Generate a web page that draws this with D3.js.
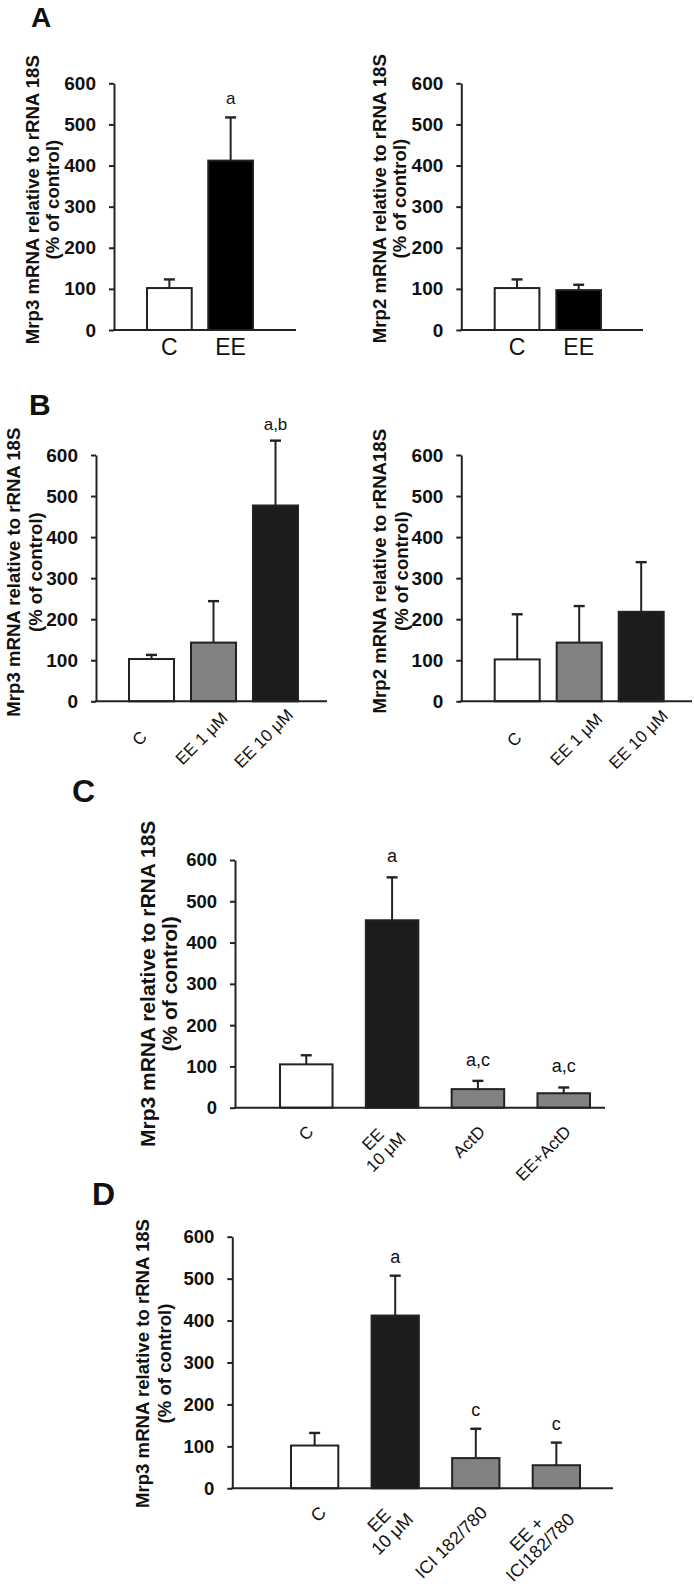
<!DOCTYPE html>
<html><head><meta charset="utf-8">
<script src="https://cdnjs.cloudflare.com/ajax/libs/d3/7.8.5/d3.min.js"></script>
<style>body{margin:0;background:#fff} svg{display:block}</style>
</head><body>
<svg id="chart" width="694" height="1586"></svg>
<script>
// ---------------- DATA ----------------
const yTicks = [0, 100, 200, 300, 400, 500, 600];

const catsA = ["C", "EE"];
const kindsA = ["control", "ee"];
const mrp3A = [102, 412];
const mrp3AErr = [21, 105];
const notesMrp3A = ["", "a"];
const mrp2A = [102, 97];
const mrp2AErr = [21, 13];
const notesMrp2A = ["", ""];

const catsB = ["C", "EE 1 μM", "EE 10 μM"];
const kindsB = ["control", "low", "ee"];
const mrp3B = [103, 143, 477];
const mrp3BErr = [10, 101, 158];
const notesMrp3B = ["", "", "a,b"];
const mrp2B = [102, 143, 218];
const mrp2BErr = [110, 89, 121];
const notesMrp2B = ["", "", ""];

const catsC = ["C", "EE\n10 μM", "ActD", "EE+ActD"];
const kindsC = ["control", "ee", "low", "low"];
const mrp3C = [105, 454, 45, 35];
const mrp3CErr = [22, 104, 20, 14];
const notesC = ["", "a", "a,c", "a,c"];

const catsD = ["C", "EE\n10 μM", "ICI 182/780", "EE +\nICI182/780"];
const kindsD = ["control", "ee", "low", "low"];
const mrp3D = [102, 412, 72, 55];
const mrp3DErr = [30, 95, 70, 54];
const notesD = ["", "a", "c", "c"];

const yLabelMrp3 = ["Mrp3 mRNA relative to rRNA 18S", "(% of control)"];
const yLabelMrp2 = ["Mrp2 mRNA relative to rRNA 18S", "(% of control)"];
const yLabelMrp2b = ["Mrp2 mRNA relative to rRNA18S", "(% of control)"];

// ---------------- STYLE / LAYOUT ----------------
const FONT = "'Liberation Sans', Arial, Helvetica, sans-serif";
const INK = "#222";
const fillA = {control: "#ffffff", ee: "#000000", low: "#808080"};
const fillB = {control: "#ffffff", ee: "#1c1c1c", low: "#828282"};

const panels = [
  {cats: catsA, kinds: kindsA, vals: mrp3A, errs: mrp3AErr, notes: notesMrp3A, fills: fillA, ylab: yLabelMrp3,
   axisX: 114, y0: 330, yTop: 83.3, bx0: 147, bx1: 253, pad: 0.27, axisEnd: 296,
   tickFs: 19, yl: {fs: 18.6, x1: -82, x2: -62, dc: -7},
   lab: {mode: "flat", fs: 23, dy: 25}, note: {fs: 17, gap: 13}},
  {cats: catsA, kinds: kindsA, vals: mrp2A, errs: mrp2AErr, notes: notesMrp2A, fills: fillA, ylab: yLabelMrp2,
   axisX: 461.3, y0: 330, yTop: 83.3, bx0: 494.7, bx1: 601, pad: 0.275, axisEnd: 643,
   tickFs: 19, yl: {fs: 18.6, x1: -82, x2: -62, dc: -8},
   lab: {mode: "flat", fs: 23, dy: 25}, note: {fs: 17, gap: 13}},
  {cats: catsB, kinds: kindsB, vals: mrp3B, errs: mrp3BErr, notes: notesMrp3B, fills: fillB, ylab: yLabelMrp3,
   axisX: 96, y0: 701.3, yTop: 455, bx0: 129, bx1: 298, pad: 0.274, axisEnd: 327,
   tickFs: 19, yl: {fs: 18.6, x1: -83, x2: -61, dc: -6},
   lab: {mode: "middle", fs: 17, lh: 18, dx: -12, dy: 37}, note: {fs: 17, gap: 11}},
  {cats: catsB, kinds: kindsB, vals: mrp2B, errs: mrp2BErr, notes: notesMrp2B, fills: fillB, ylab: yLabelMrp2b,
   axisX: 461.3, y0: 701.3, yTop: 455, bx0: 494.7, bx1: 663.7, pad: 0.274, axisEnd: 692,
   tickFs: 19, yl: {fs: 18.6, x1: -82, x2: -60, dc: -7},
   lab: {mode: "middle", fs: 17, lh: 18, dx: -3, dy: 38}, note: {fs: 17, gap: 11}},
  {cats: catsC, kinds: kindsC, vals: mrp3C, errs: mrp3CErr, notes: notesC, fills: fillB, ylab: yLabelMrp3,
   axisX: 235, y0: 1107.7, yTop: 860, bx0: 280, bx1: 590, pad: 0.388, axisEnd: 605,
   tickFs: 18.5, yl: {fs: 21, x1: -87, x2: -65, dc: 0},
   lab: {mode: "end", fs: 17, lh: 18, dx: 4, dy: 21}, note: {fs: 18, gap: 15}},
  {cats: catsD, kinds: kindsD, vals: mrp3D, errs: mrp3DErr, notes: notesD, fills: fillB, ylab: yLabelMrp3,
   axisX: 232.3, y0: 1488.3, yTop: 1236.7, bx0: 291, bx1: 580, pad: 0.413, axisEnd: 613,
   tickFs: 18.5, yl: {fs: 18.6, x1: -90, x2: -68, dc: 1},
   lab: {mode: "end", fs: 18, lh: 19, dx: 8, dy: 21}, note: {fs: 18, gap: 13}}
];

const panelLetters = [
  {t: "A", x: 31, y: 27, fs: 28},
  {t: "B", x: 29, y: 415, fs: 30},
  {t: "C", x: 72, y: 802, fs: 32},
  {t: "D", x: 92, y: 1205, fs: 32}
];

// ---------------- DRAW ----------------
const svg = d3.select("#chart");
svg.append("rect").attr("width", 694).attr("height", 1586).attr("fill", "#fff");

panelLetters.forEach(l => {
  svg.append("text").attr("x", l.x).attr("y", l.y).text(l.t)
    .attr("font-family", FONT).attr("font-weight", "bold").attr("font-size", l.fs).attr("fill", "#111");
});

panels.forEach(p => {
  const g = svg.append("g");
  const y = d3.scaleLinear().domain([0, 600]).range([p.y0, p.yTop]);
  const x = d3.scaleBand().domain(p.cats).range([p.bx0, p.bx1]).paddingInner(p.pad).paddingOuter(0);

  // bars
  g.selectAll("rect.bar").data(p.cats).join("rect").attr("class", "bar")
    .attr("x", d => x(d)).attr("width", x.bandwidth())
    .attr("y", (d, i) => y(p.vals[i])).attr("height", (d, i) => y(0) - y(p.vals[i]))
    .attr("fill", (d, i) => p.fills[p.kinds[i]])
    .attr("stroke", INK).attr("stroke-width", 2);

  // error bars
  const cap = 5.5;
  p.cats.forEach((c, i) => {
    const cx = x(c) + x.bandwidth() / 2;
    const yv = y(p.vals[i]), ye = y(p.vals[i] + p.errs[i]);
    g.append("line").attr("x1", cx).attr("x2", cx).attr("y1", yv).attr("y2", ye)
      .attr("stroke", INK).attr("stroke-width", 2);
    g.append("line").attr("x1", cx - cap).attr("x2", cx + cap).attr("y1", ye).attr("y2", ye)
      .attr("stroke", INK).attr("stroke-width", 2.4);
    if (p.notes[i]) {
      g.append("text").attr("x", cx).attr("y", ye - p.note.gap).attr("text-anchor", "middle")
        .attr("font-family", FONT).attr("font-size", p.note.fs).attr("fill", "#111").text(p.notes[i]);
    }
  });

  // y axis
  const yAxis = d3.axisLeft(y).tickValues(yTicks).tickSize(5).tickPadding(13).tickSizeOuter(0);
  const ya = g.append("g").attr("transform", `translate(${p.axisX},0)`).call(yAxis);
  ya.select(".domain").attr("stroke", INK).attr("stroke-width", 2);
  ya.selectAll(".tick line").attr("stroke", INK).attr("stroke-width", 2);
  ya.selectAll(".tick text").attr("font-family", FONT).attr("font-weight", "bold")
    .attr("font-size", p.tickFs).attr("fill", "#111");

  // x axis baseline
  g.append("line").attr("x1", p.axisX - 1).attr("x2", p.axisEnd).attr("y1", y(0)).attr("y2", y(0))
    .attr("stroke", INK).attr("stroke-width", 2);

  // y label
  const midY = (p.y0 + p.yTop) / 2 + p.yl.dc;
  [[p.ylab[0], p.yl.x1], [p.ylab[1], p.yl.x2]].forEach(([t, off]) => {
    g.append("text").attr("transform", `translate(${p.axisX + off},${midY}) rotate(-90)`)
      .attr("text-anchor", "middle").attr("dy", "0.35em")
      .attr("font-family", FONT).attr("font-weight", "bold").attr("font-size", p.yl.fs)
      .attr("fill", "#111").text(t);
  });

  // category labels
  p.cats.forEach(c => {
    const bc = x(c) + x.bandwidth() / 2;
    if (p.lab.mode === "flat") {
      g.append("text").attr("x", bc).attr("y", y(0) + p.lab.dy).attr("text-anchor", "middle")
        .attr("font-family", FONT).attr("font-size", p.lab.fs).attr("fill", "#111").text(c);
      return;
    }
    const lines = c.split("\n");
    const n = lines.length;
    const lg = g.append("g").attr("transform", `translate(${bc + p.lab.dx},${y(0) + p.lab.dy}) rotate(-45)`);
    const texts = lines.map((ln, j) => lg.append("text")
      .attr("y", (j - (n - 1) / 2) * p.lab.lh).attr("dy", "0.35em")
      .attr("text-anchor", "middle").attr("font-family", FONT).attr("font-size", p.lab.fs)
      .attr("fill", "#111").text(ln));
    if (p.lab.mode === "end") {
      const L = d3.max(texts, t => t.node().getComputedTextLength());
      texts.forEach(t => t.attr("x", -L / 2));
    } else {
      texts.forEach(t => t.attr("x", 0));
    }
  });
});
</script>
</body></html>
